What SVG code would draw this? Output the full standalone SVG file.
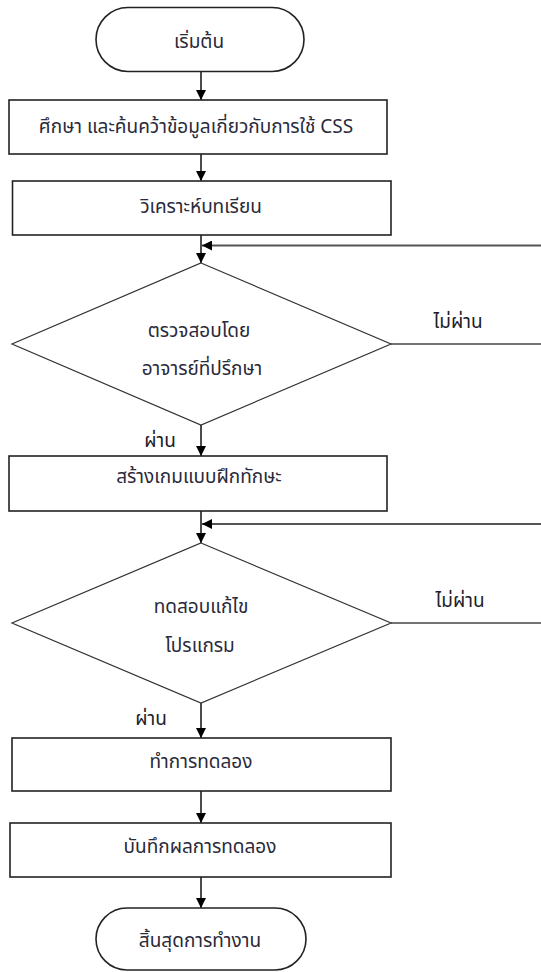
<svg xmlns="http://www.w3.org/2000/svg" width="541" height="972" viewBox="0 0 541 972">
<style>
  .shape { fill: #ffffff; stroke: #222222; stroke-width: 1.6; }
  .dia { fill: #ffffff; stroke: #333333; stroke-width: 1.2; }
  .t { font-family: "Noto Sans Thai", Tahoma, "Noto Sans", "DejaVu Sans", sans-serif; font-size: 19px; fill: #2a2a3a; text-anchor: middle; dominant-baseline: central; }
  .lbl { font-family: "Noto Sans Thai", Tahoma, "Noto Sans", "DejaVu Sans", sans-serif; font-size: 19px; fill: #1e1e2a; text-anchor: middle; dominant-baseline: central; }
  .conn { stroke: #111111; stroke-width: 1.5; fill: none; }
  .back { stroke: #555555; stroke-width: 2.2; fill: none; }
  .side { stroke: #444444; stroke-width: 1.4; fill: none; }
</style>
<defs>
  <marker id="ah" viewBox="0 0 10 10" refX="10" refY="5" markerWidth="10" markerHeight="10" markerUnits="userSpaceOnUse" orient="auto">
    <path d="M0,0 L10,5 L0,10 Z" fill="#000000"/>
  </marker>
</defs>

<rect width="541" height="972" fill="#ffffff"/>

<g id="connectors">
  <line class="conn" x1="201" y1="72" x2="201" y2="100" marker-end="url(#ah)"/>
  <line class="conn" x1="201" y1="154" x2="201" y2="181" marker-end="url(#ah)"/>
  <line class="conn" x1="201" y1="235" x2="201" y2="263" marker-end="url(#ah)"/>
  <line class="back" x1="541" y1="245.5" x2="202" y2="245.5" marker-end="url(#ah)"/>
  <line class="side" x1="391" y1="344" x2="541" y2="344"/>
  <line class="conn" x1="201" y1="425" x2="201" y2="456" marker-end="url(#ah)"/>
  <line class="conn" x1="201" y1="511" x2="201" y2="543" marker-end="url(#ah)"/>
  <line class="back" x1="541" y1="524" x2="202" y2="524" marker-end="url(#ah)"/>
  <line class="side" x1="391" y1="623" x2="541" y2="623"/>
  <line class="conn" x1="201" y1="703" x2="201" y2="738" marker-end="url(#ah)"/>
  <line class="conn" x1="201" y1="791" x2="201" y2="823" marker-end="url(#ah)"/>
  <line class="conn" x1="201" y1="877" x2="201" y2="908" marker-end="url(#ah)"/>
  <text class="lbl" x="458" y="322">ไม่ผ่าน</text>
  <text class="lbl" x="160" y="441">ผ่าน</text>
  <text class="lbl" x="460" y="601">ไม่ผ่าน</text>
  <text class="lbl" x="151" y="719">ผ่าน</text>
</g>

<g id="start">
  <rect class="shape" x="96" y="7.5" width="208" height="64" rx="32" ry="32"/>
  <text class="t" x="199" y="42">เริ่มต้น</text>
</g>

<g id="study">
  <rect class="shape" x="9" y="100" width="378" height="54"/>
  <text class="t" x="196" y="127">ศึกษา และค้นคว้าข้อมูลเกี่ยวกับการใช้ CSS</text>
</g>

<g id="analyze">
  <rect class="shape" x="12.5" y="181" width="378.5" height="54"/>
  <text class="t" x="201" y="207">วิเคราะห์บทเรียน</text>
</g>

<g id="check">
  <polygon class="dia" points="201,263 391,344 201,425 12,344"/>
  <text class="t" x="199" y="331">ตรวจสอบโดย</text>
  <text class="t" x="202" y="369">อาจารย์ที่ปรึกษา</text>
</g>

<g id="build">
  <rect class="shape" x="9" y="456" width="378" height="55"/>
  <text class="t" x="199" y="477">สร้างเกมแบบฝึกทักษะ</text>
</g>

<g id="test">
  <polygon class="dia" points="201,543 391,623 201,703 12,623"/>
  <text class="t" x="201" y="607">ทดสอบแก้ไข</text>
  <text class="t" x="200" y="646">โปรแกรม</text>
</g>

<g id="experiment">
  <rect class="shape" x="12" y="738" width="379" height="53"/>
  <text class="t" x="201" y="762">ทำการทดลอง</text>
</g>

<g id="record">
  <rect class="shape" x="10" y="823" width="381" height="54"/>
  <text class="t" x="200" y="847">บันทึกผลการทดลอง</text>
</g>

<g id="end">
  <rect class="shape" x="96" y="908" width="210" height="62" rx="31" ry="31"/>
  <text class="t" x="200" y="941">สิ้นสุดการทำงาน</text>
</g>
</svg>
